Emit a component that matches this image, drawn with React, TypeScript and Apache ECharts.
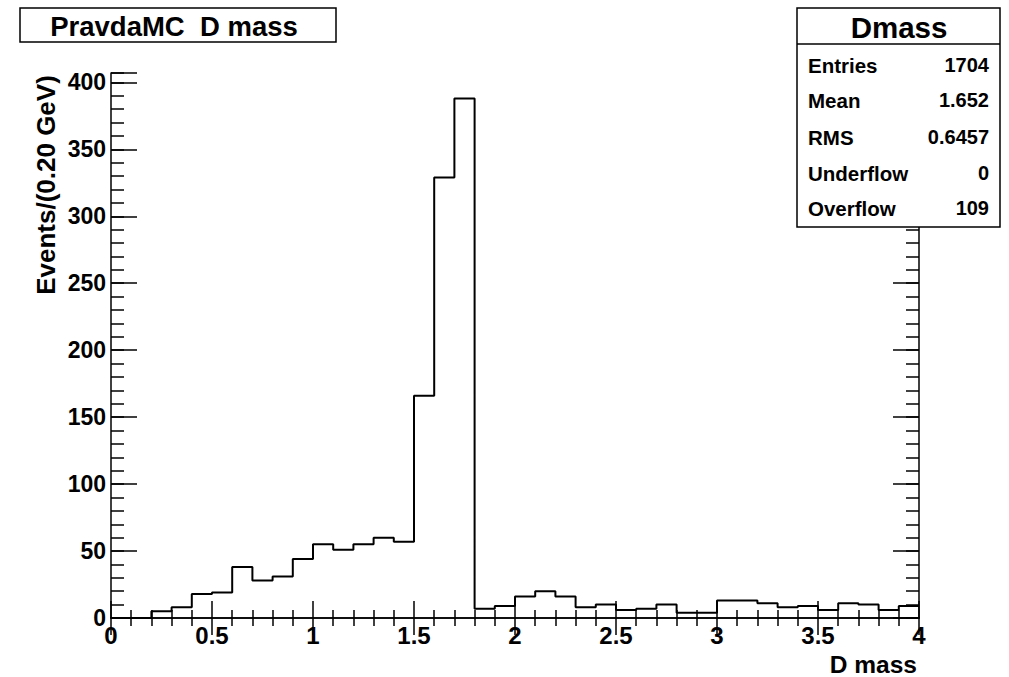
import React, { useEffect, useRef } from "react";
import * as echarts from "echarts";

// Histogram bin lower edges (plus final upper edge) and bin contents
const binEdges = [
  0.0, 0.1, 0.2, 0.3, 0.4, 0.5, 0.6, 0.7, 0.8, 0.9,
  1.0, 1.1, 1.2, 1.3, 1.4, 1.5, 1.6, 1.7, 1.8, 1.9,
  2.0, 2.1, 2.2, 2.3, 2.4, 2.5, 2.6, 2.7, 2.8, 2.9,
  3.0, 3.1, 3.2, 3.3, 3.4, 3.5, 3.6, 3.7, 3.8, 3.9, 4.0,
];
const counts = [
  0, 0, 5, 8, 18, 19, 38, 28, 31, 44,
  55, 51, 55, 60, 57, 166, 329, 388, 7, 9,
  16, 20, 16, 8, 10, 6, 7, 10, 4, 4,
  13, 13, 11, 8, 9, 6, 11, 10, 6, 9,
];
const title = "PravdaMC  D mass";
const xTitle = "D mass";
const yTitle = "Events/(0.20 GeV)";
const statsTitle = "Dmass";
const statLabels = ["Entries", "Mean", "RMS", "Underflow", "Overflow"];
const statValues = ["1704", "1.652", "0.6457", "0", "109"];
const xMin = 0;
const xMax = 4;
const yMin = 0;
const yMax = 407;

const FONT = '"Liberation Sans", Arial, Helvetica, sans-serif';

export default function App() {
  const ref = useRef<HTMLDivElement>(null);
  useEffect(() => {
    const chart = echarts.init(ref.current!, null, { renderer: "svg" });
    const data: number[][] = counts.map((c, i) => [binEdges[i], c]);
    data.push([binEdges[counts.length], counts[counts.length - 1]]);

    const L = 111, R = 919, T = 73, B = 618;
    const W = 1009, H = 677;
    const ls = { color: "#000", width: 1.5 };
    const axisLine = { show: true, lineStyle: ls };
    const xCommon = {
      type: "value",
      min: xMin,
      max: xMax,
      interval: 0.5,
      axisLine,
      axisTick: { show: true, inside: true, length: 17, lineStyle: ls },
      minorTick: { show: true, splitNumber: 5, length: 8, lineStyle: ls },
      splitLine: { show: false },
      minorSplitLine: { show: false },
    };
    const yMinor = {
      type: "value",
      min: yMin,
      max: yMax,
      interval: 10,
      axisLine,
      axisTick: { show: true, inside: true, length: 13, lineStyle: ls },
      splitLine: { show: false },
    };
    const yMajor = {
      type: "value",
      min: yMin,
      max: yMax,
      interval: 50,
      axisLine: { show: false },
      axisTick: { show: true, inside: true, length: 26, lineStyle: ls },
      axisLabel: { show: false },
      splitLine: { show: false },
    };

    const rowY = [65, 100, 137, 173, 208];
    const z = 100;
    const txt = (text: string, x: number, y: number, size: number, align: string, extra: any = {}) => ({
      type: "text",
      x,
      y,
      z,
      ...extra,
      style: {
        text,
        fill: "#000",
        fontFamily: FONT,
        fontWeight: "bold",
        fontSize: size,
        font: `bold ${size}px ${FONT}`,
        align,
        textAlign: align,
        verticalAlign: "middle",
        textVerticalAlign: "middle",
      },
    });

    const graphic: any[] = [
      { type: "rect", z, shape: { x: 20, y: 8, width: 316, height: 34 }, style: { fill: "#fff", stroke: "#000", lineWidth: 1.5 } },
      txt(title, 174, 26, 27.5, "center"),
      { type: "rect", z, shape: { x: 797, y: 8, width: 203, height: 219 }, style: { fill: "#fff", stroke: "#000", lineWidth: 1.5 } },
      { type: "line", z, shape: { x1: 797, y1: 44, x2: 1000, y2: 44 }, style: { stroke: "#000", lineWidth: 1.5 } },
      txt(statsTitle, 899, 27, 29.5, "center"),
      txt(yTitle, 46, 185, 26, "center", { rotation: Math.PI / 2 }),
      txt(xTitle, 917, 664, 24.5, "right"),
    ];
    statLabels.forEach((s, i) => {
      graphic.push(txt(s, 808, rowY[i], 20.5, "left"));
      graphic.push(txt(statValues[i], 989, rowY[i], 20, "right"));
    });

    chart.setOption({
      animation: false,
      backgroundColor: "#fff",
      grid: { left: L, right: W - R, top: T, bottom: H - B, containLabel: false },
      xAxis: [
        {
          ...xCommon,
          position: "bottom",
          axisLabel: {
            color: "#000",
            fontFamily: FONT,
            fontWeight: "bold",
            fontSize: 24,
            margin: 5,
            formatter: (v: number) => String(v),
          },
        },
        { ...xCommon, position: "top", axisLabel: { show: false } },
      ],
      yAxis: [
        {
          ...yMinor,
          position: "left",
          axisLabel: {
            color: "#000",
            fontFamily: FONT,
            fontWeight: "bold",
            fontSize: 23,
            margin: 5,
            formatter: (v: number) => (Math.round(v) % 50 === 0 && Math.abs(v - Math.round(v)) < 1e-6 ? String(Math.round(v)) : ""),
          },
        },
        { ...yMajor, position: "left" },
        { ...yMinor, position: "right", axisLabel: { show: false } },
        { ...yMajor, position: "right" },
      ],
      series: [
        {
          type: "line",
          step: "end",
          xAxisIndex: 0,
          yAxisIndex: 0,
          data,
          symbol: "none",
          lineStyle: { color: "#000", width: 2 },
          clip: true,
        },
      ],
      graphic,
    });
    return () => chart.dispose();
  }, []);
  return <div ref={ref} style={{ position: "absolute", left: 0, top: 0, width: 1009, height: 677 }} />;
}
